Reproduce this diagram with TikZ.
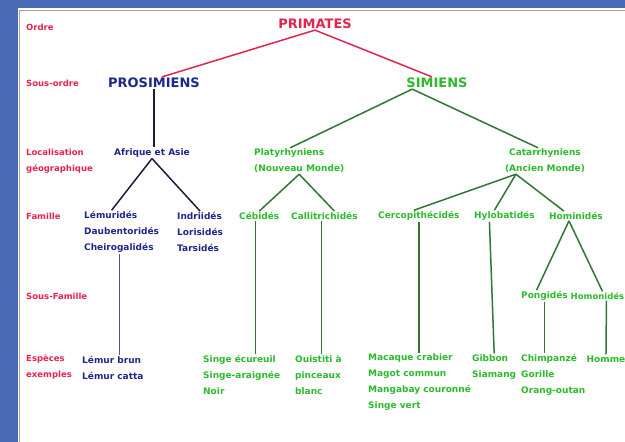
\documentclass[tikz,border=0pt]{standalone}
\usepackage{fontspec}
\setmainfont{DejaVu Sans}
\definecolor{frameblue}{RGB}{74,108,184}
\definecolor{rulegray}{RGB}{165,165,165}
\definecolor{labelred}{RGB}{226,36,78}
\definecolor{prosblue}{RGB}{30,40,140}
\definecolor{simgreen}{RGB}{44,186,44}
\definecolor{linegreen}{RGB}{50,118,52}
\definecolor{lineblack}{RGB}{28,28,60}

\begin{document}
\begin{tikzpicture}[
  x=1pt, y=-1pt,
  % --- looks ------------------------------------------------------------
  rowlabel/.style={anchor=west, text=labelred, align=left, inner sep=1pt,
                   font=\bfseries\fontsize{8.5}{16}\selectfont},
  taxon/.style={inner sep=1pt, font=\bfseries\fontsize{13}{15}\selectfont},
  prositem/.style={text=prosblue, align=left, inner sep=1pt,
                   font=\bfseries\fontsize{9}{16}\selectfont},
  simitem/.style={text=simgreen, align=left, inner sep=1pt,
                  font=\bfseries\fontsize{9}{16}\selectfont},
  redlink/.style={draw=labelred, line width=1.5pt},
  darklink/.style={draw=lineblack, line width=1.5pt},
  bluelink/.style={draw=prosblue!80, line width=1.5pt},
  greenlink/.style={draw=linegreen, line width=1.5pt},
  % ---------------------------------------------------------------------
]
  \useasboundingbox (0,0) rectangle (625,442);

  % Frame
  \fill[frameblue] (0,0) rectangle (625,442);
  \fill[white] (18,8) rectangle (625,442);
  \draw[rulegray, line width=1.5pt] (19.5,442) -- (19.5,10.5) -- (625,10.5);

  % Row labels
  \node[rowlabel] (ordre) at (25,27) {Ordre};
  \node[rowlabel] (sousordre) at (25,83) {Sous-ordre};
  \node[rowlabel] (loc) at (25,161) {Localisation\\géographique};
  \node[rowlabel] (fam) at (25,216) {Famille};
  \node[rowlabel] (sousfam) at (25,296) {Sous-Famille};
  \node[rowlabel] (esp) at (25,367) {Espèces\\exemples};

  % Order and sub-orders
  \node[taxon, text=labelred] (prim) at (315,24) {PRIMATES};
  \node[taxon, text=prosblue] (pros) at (154,83) {PROSIMIENS};
  \node[taxon, text=simgreen] (sim) at (437,83) {SIMIENS};

  % Prosimians
  \node[prositem] (afr) at (152,153) {Afrique et Asie};
  \node[prositem, anchor=west] (lem) at (83,232) {Lémuridés\\Daubentoridés\\Cheirogalidés};
  \node[prositem, anchor=west] (ind) at (176,232) {Indriidés\\Lorisidés\\Tarsidés};
  \node[prositem, anchor=west] (lemsp) at (81,367.5) {Lémur brun\\Lémur catta};

  % Simians
  \node[simitem, anchor=west] (platy) at (253,161) {Platyrhyniens\\(Nouveau Monde)};
  \node[simitem, align=center] (catar) at (545,161) {Catarrhyniens\\(Ancien Monde)};

  \node[simitem, anchor=west] (ceb) at (238,216) {Cébidés};
  \node[simitem, anchor=west] (calli) at (290,216) {Callitrichidés};
  \node[simitem, anchor=west] (cerco) at (377,216) {Cercopithécidés};
  \node[simitem, anchor=west] (hylo) at (473,216) {Hylobatidés};
  \node[simitem, anchor=west] (homin) at (548,216) {Hominidés};

  \node[simitem, anchor=west] (pong) at (520,296) {Pongidés};
  \node[simitem, anchor=west, font=\bfseries\fontsize{8.5}{16}\selectfont] (homon) at (569.5,296) {Homonidés};

  \node[simitem, anchor=west] (singe) at (202,375) {Singe écureuil\\Singe-araignée\\Noir};
  \node[simitem, anchor=west] (ouist) at (294,375) {Ouistiti à\\pinceaux\\blanc};
  \node[simitem, anchor=west] (maca) at (367,382.5) {Macaque crabier\\Magot commun\\Mangabay couronné\\Singe vert};
  \node[simitem, anchor=west] (gib) at (471,367) {Gibbon\\Siamang};
  \node[simitem, anchor=west] (chimp) at (520,375) {Chimpanzé\\Gorille\\Orang-outan};
  \node[simitem, anchor=west] (homme) at (585.5,359) {Homme};

  % Connectors
  \draw[redlink] (prim.south) -- ([xshift=8pt]pros.north);
  \draw[redlink] (prim.south) -- ([xshift=-5pt]sim.north);

  \draw[darklink] (pros.south) -- (pros.south |- afr.north);
  \draw[darklink] (afr.south) -- ([xshift=-10pt]lem.north);
  \draw[darklink] (afr.south) -- (ind.north);
  \draw[bluelink] ([xshift=-2pt]lem.south) -- ([xshift=-2pt]lem.south |- lemsp.north);

  \draw[greenlink] ([xshift=7pt]sim.south west) -- ([xshift=-9pt]platy.north);
  \draw[greenlink] ([xshift=7pt]sim.south west) -- ([xshift=-7pt]catar.north);

  \draw[greenlink] (platy.south) -- (ceb.north);
  \draw[greenlink] (platy.south) -- ([xshift=10pt]calli.north);
  \draw[greenlink] ([xshift=12pt]catar.south west) -- ([xshift=-5pt]cerco.north);
  \draw[greenlink] ([xshift=12pt]catar.south west) -- ([xshift=-10pt]hylo.north);
  \draw[greenlink] ([xshift=12pt]catar.south west) -- ([xshift=-12pt]homin.north);

  \draw[greenlink] ([xshift=-4pt]ceb.south) -- ([xshift=-4pt]ceb.south |- singe.north);
  \draw[greenlink] ([xshift=-3pt]calli.south) -- ([xshift=-3pt]calli.south |- ouist.north);
  \draw[greenlink] (cerco.south) -- (cerco.south |- maca.north);
  \draw[greenlink] ([xshift=-15pt]hylo.south) -- (gib.north);
  \draw[greenlink] ([xshift=-7pt]homin.south) -- ([xshift=-8pt]pong.north);
  \draw[greenlink] ([xshift=-7pt]homin.south) -- ([xshift=5pt]homon.north);
  \draw[greenlink] (pong.south) -- (pong.south |- chimp.north);
  \draw[greenlink] ([xshift=9pt]homon.south) -- (homme.north);
\end{tikzpicture}
\end{document}
